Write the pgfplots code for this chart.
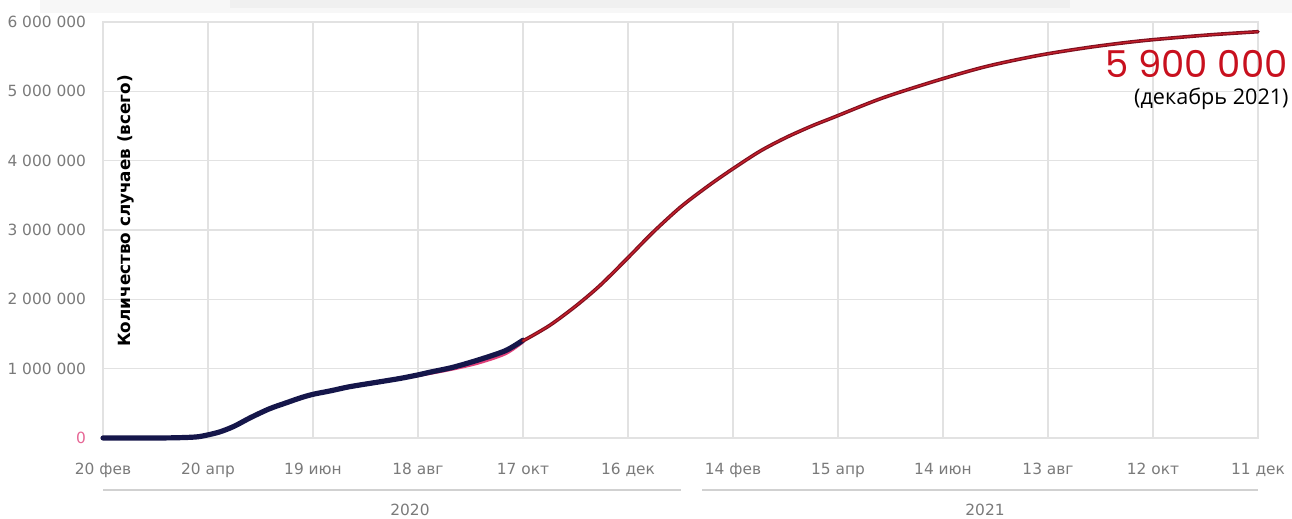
\documentclass[border=0pt]{standalone}
\usepackage{pgfplots}
\pgfplotsset{compat=1.18}
\usepackage{fontspec}
\setmainfont{DejaVu Sans}
\newfontfamily\numfont{Poppins}
\newfontfamily\notefont{Open Sans}

\definecolor{tickc}{HTML}{7A7A7A}
\definecolor{gridc}{HTML}{E2E2E2}
\definecolor{navy}{HTML}{15164A}
\definecolor{fitpink}{HTML}{E0407A}
\definecolor{maroon}{HTML}{7E1020}
\definecolor{fred}{HTML}{C8202A}
\definecolor{notered}{HTML}{C8101E}

% days since 20 Feb 2020 -> total cases
\pgfplotstableread{
day cases
0 0
10 0
20 0
30 500
40 2500
50 10000
55 20000
60 45000
67 90000
75 170000
84 290000
95 420000
105 510000
113 580000
120 630000
130 680000
141 740000
158 810000
170 860000
180 910000
187 950000
200 1020000
215 1130000
230 1260000
240 1410000
}\actual

\pgfplotstableread{
day cases
0 0
10 0
30 400
50 9000
60 42000
75 165000
95 410000
120 620000
141 735000
158 800000
180 895000
200 990000
215 1080000
230 1210000
240 1380000
}\fit

\pgfplotstableread{
day cases
240 1400000
255 1620000
270 1900000
284 2200000
300 2600000
314 2960000
330 3330000
345 3620000
358 3850000
375 4130000
390 4330000
405 4500000
417 4620000
445 4900000
477 5160000
505 5360000
535 5520000
565 5640000
594 5730000
630 5810000
660 5860000
}\forecast

\begin{document}
\begin{tikzpicture}
\useasboundingbox (0,0) rectangle (646pt,259.5pt);
% faint cut-off title strip at the top
\fill[black!3] (20pt,253pt) rectangle (646pt,259.5pt);
\fill[black!6] (115pt,255.5pt) rectangle (535pt,259.5pt);

\begin{axis}[
    scale only axis,
    width=577.5pt, height=208pt,
    at={(51.5pt,40.5pt)}, anchor=south west,
    xmin=0, xmax=660, ymin=0, ymax=6000000,
    scaled y ticks=false,
    xtick={0,60,...,660},
    xticklabels={20 фев, 20 апр, 19 июн, 18 авг, 17 окт, 16 дек, 14 фев, 15 апр, 14 июн, 13 авг, 12 окт, 11 дек},
    ytick={0,1000000,2000000,3000000,4000000,5000000,6000000},
    yticklabels={\textcolor{fitpink!80}{0}, 1 000 000, 2 000 000, 3 000 000, 4 000 000, 5 000 000, 6 000 000},
    grid=major,
    major grid style={draw=gridc, line width=0.6pt},
    axis line style={draw=gridc, line width=0.6pt},
    tick style={draw=none},
    xticklabel style={font=\fontsize{7.7}{9}\selectfont, text=tickc, yshift=-9pt},
    yticklabel style={font=\fontsize{7.7}{9}\selectfont, text=tickc, xshift=-5pt},
    clip=false,
]
\addplot[fitpink, line width=1.2pt, smooth] table[x=day, y=cases] {\fit};
\addplot[navy, line width=2.6pt, smooth, line cap=round] table[x=day, y=cases] {\actual};
\addplot[maroon, line width=1.8pt, smooth, line cap=round] table[x=day, y=cases] {\forecast};
\addplot[fred, line width=0.6pt, smooth] table[x=day, y=cases] {\forecast};
\end{axis}

\node[rotate=90, font=\bfseries\fontsize{8.4}{10}\selectfont] at (63pt,154pt) {Количество случаев (всего)};

\node[anchor=base east, inner sep=0pt, text=notered, font=\numfont\fontsize{18.5}{20}\selectfont] at (644pt,220.5pt) {5 900 000};
\node[anchor=base east, inner sep=0pt, font=\notefont\fontsize{10.8}{12}\selectfont] at (644.5pt,207pt) {(декабрь 2021)};

\draw[black!18, line width=1pt] (51.5pt,14.5pt) -- (340.5pt,14.5pt);
\draw[black!18, line width=1pt] (351pt,14.5pt) -- (629pt,14.5pt);
\node[text=tickc, font=\fontsize{7.7}{9}\selectfont] at (205pt,4.5pt) {2020};
\node[text=tickc, font=\fontsize{7.7}{9}\selectfont] at (492.5pt,4.5pt) {2021};
\end{tikzpicture}
\end{document}
